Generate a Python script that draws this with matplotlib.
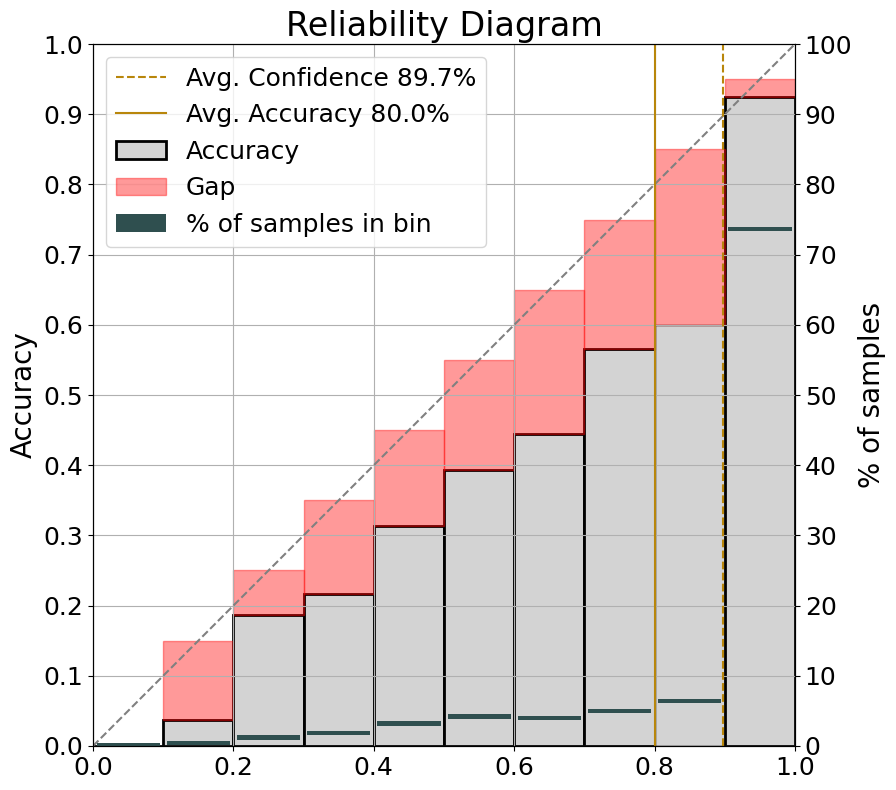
import matplotlib
matplotlib.use("Agg")
import matplotlib.pyplot as plt
import numpy as np

# bin data (10 equal-width confidence bins)
bin_left = [0.0, 0.1, 0.2, 0.3, 0.4, 0.5, 0.6, 0.7, 0.8, 0.9]
accuracy = [0.0, 0.037, 0.186, 0.216, 0.313, 0.393, 0.445, 0.565, 0.600, 0.924]
gap_top = [0.0, 0.15, 0.25, 0.35, 0.45, 0.55, 0.65, 0.75, 0.85, 0.95]
pct_samples = [0.1, 0.47, 1.2, 1.9, 3.2, 4.2, 4.0, 5.0, 6.45, 73.6]
edge_widths = [2, 2, 2, 2, 2, 2, 2, 2, 1, 2]

avg_conf = 0.897
avg_acc = 0.800

fig = plt.figure(figsize=(8.96, 7.9), dpi=100)
ax = fig.add_axes([0.1038, 0.0557, 0.7835, 0.8886])

bw = 0.1
centers = np.array(bin_left) + bw / 2
acc = np.array(accuracy)
top = np.array(gap_top)

# accuracy bars
ax.bar(centers, acc, width=bw, color="lightgrey", edgecolor="black",
       linewidth=edge_widths, label="Accuracy")

# gap bars (skip empty first bin)
gap = np.where(top > 0, top - acc, 0)
ax.bar(centers[1:], gap[1:], bottom=acc[1:], width=bw, color="red",
       alpha=0.4, edgecolor="red", linewidth=1, label="Gap")

ax.plot([0, 1], [0, 1], linestyle="--", color="grey", linewidth=1.5)
ax.axvline(avg_conf, color="darkgoldenrod", linestyle="--", linewidth=1.5,
           label=f"Avg. Confidence {avg_conf*100:.1f}%")
ax.axvline(avg_acc, color="darkgoldenrod", linestyle="-", linewidth=1.5,
           label=f"Avg. Accuracy {avg_acc*100:.1f}%")

ax.set_xlim(0, 1)
ax.set_ylim(0, 1)
ax.set_xticks(np.arange(0, 1.01, 0.2))
ax.set_yticks(np.arange(0, 1.01, 0.1))
ax.tick_params(labelsize=18)
ax.grid(True)
ax.set_ylabel("Accuracy", fontsize=20)
ax.set_title("Reliability Diagram", fontsize=24)

# % of samples on twin axis, drawn as thin bars
ax2 = ax.twinx()
ax2.bar(centers, [0.6] * len(pct_samples), bottom=np.array(pct_samples) - 0.3,
        width=0.09, color="darkslategray", label="% of samples in bin")
ax2.set_ylim(0, 100)
ax2.set_yticks(np.arange(0, 101, 10))
ax2.tick_params(labelsize=18)
ax2.set_ylabel("% of samples", fontsize=20, labelpad=4)

h1, l1 = ax.get_legend_handles_labels()
h2, l2 = ax2.get_legend_handles_labels()
ax2.legend(h1 + h2, l1 + l2, loc="upper left", fontsize=18)

fig.savefig("out.png", dpi=100)
